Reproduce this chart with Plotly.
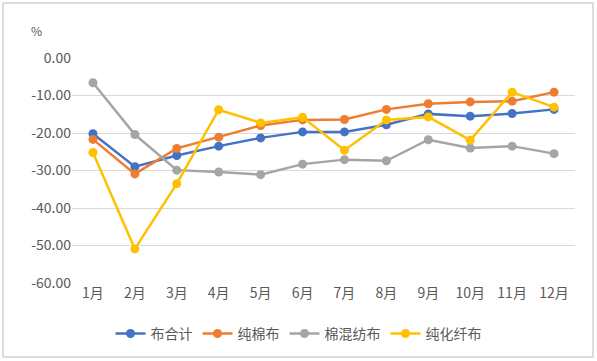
import plotly.graph_objects as go

months = ["1月", "2月", "3月", "4月", "5月", "6月", "7月", "8月", "9月", "10月", "11月", "12月"]
total = [-20.2, -29.0, -26.0, -23.5, -21.3, -19.7, -19.7, -17.8, -14.9, -15.5, -14.8, -13.7]
cotton = [-21.7, -30.9, -24.1, -21.1, -18.0, -16.5, -16.4, -13.7, -12.2, -11.7, -11.5, -9.1]
blend = [-6.6, -20.4, -29.9, -30.4, -31.1, -28.3, -27.1, -27.4, -21.8, -24.0, -23.5, -25.5]
synthetic = [-25.2, -50.9, -33.5, -13.8, -17.3, -15.8, -24.6, -16.5, -15.7, -21.9, -9.1, -13.1]

names = ["布合计", "纯棉布", "棉混纺布", "纯化纤布"]
colors = ["#4472C4", "#ED7D31", "#A5A5A5", "#FFC000"]
series = [total, cotton, blend, synthetic]

y_ticks = [0, -10, -20, -30, -40, -50, -60]
y_ticktext = ["0.00", "-10.00", "-20.00", "-30.00", "-40.00", "-50.00", "-60.00"]

font = "Noto Sans CJK SC"
fig = go.Figure()
for n, c, s in zip(names, colors, series):
    fig.add_trace(go.Scatter(
        x=months, y=s, name=n, mode="lines+markers",
        line=dict(color=c, width=2.5),
        marker=dict(color=c, size=9),
        cliponaxis=False,
    ))

fig.update_layout(
    width=597, height=361,
    margin=dict(l=72, r=22, t=58, b=78, autoexpand=False),
    paper_bgcolor="white", plot_bgcolor="white",
    font=dict(family=font, color="#595959", size=13),
    showlegend=True,
    legend=dict(orientation="h", xref="container", yref="container",
                x=0.5, xanchor="center", y=0.075, yanchor="middle",
                font=dict(size=14, color="#595959"),
                traceorder="normal"),
    xaxis=dict(range=[-0.5, 11.5], showgrid=False, showline=False, zeroline=False,
               ticks="", tickfont=dict(size=14)),
    yaxis=dict(range=[-60, 0], tickvals=y_ticks, ticktext=y_ticktext, showgrid=True,
               gridcolor="#D9D9D9", gridwidth=1, zeroline=False, showline=False,
               ticks="", tickfont=dict(size=14), ticksuffix=" "),
    shapes=[dict(type="rect", xref="paper", yref="paper",
                 x0=(3 - 72) / 503, x1=(593 - 72) / 503,
                 y0=(283 - 357) / 225, y1=(283 - 3) / 225,
                 line=dict(color="#D4D4D4", width=1.5), fillcolor="rgba(0,0,0,0)",
                 layer="above")],
    annotations=[dict(text="%", xref="paper", yref="paper",
                      x=(36 - 72) / 503, y=(283 - 31) / 225,
                      xanchor="center", yanchor="middle",
                      showarrow=False, font=dict(size=12, color="#595959"))],
)

fig.write_html("out.html", config={"displayModeBar": False},
               post_script="document.body.style.margin='0';")
